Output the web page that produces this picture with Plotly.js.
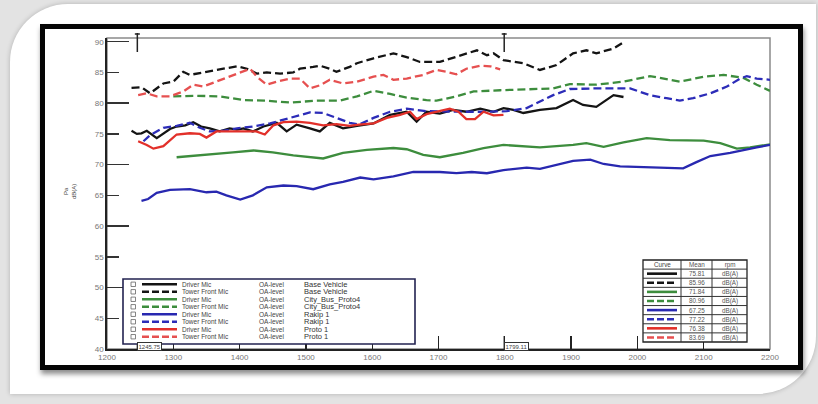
<!DOCTYPE html>
<html><head><meta charset="utf-8">
<script src="https://cdn.plot.ly/plotly-3.0.1.min.js"></script>
<style>
html,body{margin:0;padding:0;width:818px;height:404px;overflow:hidden;background:#e3e3e3;}
#card{position:absolute;left:10px;top:4px;width:806px;height:390px;background:#fff;border-radius:58px 0 58px 0;box-shadow:0 0 5px rgba(0,0,0,0.22);}
#frame{position:absolute;left:40px;top:24px;width:753px;height:336px;border:5px solid #050505;background:#fff;box-shadow:1px 4px 5px rgba(0,0,0,0.45);}
#chart{position:absolute;left:0;top:0;width:818px;height:404px;}
</style></head>
<body>
<div id="card"></div>
<div id="frame"></div>
<div id="chart"></div>
<script>
// ---- data ----
const bvDriverX = [1237,1245,1252,1260,1275,1285,1295,1305,1318,1330,1342,1355,1370,1385,1396,1406,1420,1436,1456,1471,1486,1506,1521,1536,1556,1577,1602,1627,1652,1667,1682,1702,1722,1742,1763,1783,1798,1813,1828,1853,1878,1903,1918,1938,1954,1964,1979];
const bvDriverY = [75.5,75.0,75.1,75.5,74.3,75.0,75.8,76.2,76.4,76.9,76.2,75.9,75.4,75.9,75.7,75.9,75.4,76.2,76.8,75.4,76.5,75.9,75.4,76.8,75.9,76.3,76.7,78.1,78.6,77.0,78.6,78.3,78.9,78.6,79.1,78.6,79.2,78.9,78.4,78.9,79.2,80.5,79.7,79.4,80.5,81.3,81.0];

const bvTowerX = [1237,1252,1265,1275,1285,1300,1315,1325,1340,1365,1380,1396,1411,1426,1441,1461,1481,1491,1511,1521,1536,1546,1566,1577,1602,1632,1652,1672,1702,1727,1758,1773,1783,1798,1828,1853,1878,1903,1923,1938,1954,1964,1979];
const bvTowerY = [82.5,82.6,81.6,82.4,83.2,83.5,85.1,84.6,84.9,85.4,85.6,86.0,85.6,84.8,85.0,84.8,85.0,85.6,85.9,86.1,85.6,85.1,85.9,86.5,87.3,88.1,87.5,86.7,86.7,87.5,88.6,87.8,88.1,87.0,86.5,85.4,86.2,88.1,88.6,88.1,88.6,88.9,89.9];

const cbDriverX = [1305,1330,1355,1390,1421,1450,1481,1506,1526,1556,1592,1632,1652,1677,1702,1737,1768,1798,1828,1853,1878,1903,1923,1949,1979,2014,2049,2100,2125,2150,2170,2200];
const cbDriverY = [71.2,71.4,71.7,72.0,72.3,72.0,71.5,71.2,71.0,71.9,72.4,72.7,72.5,71.6,71.2,71.9,72.7,73.2,73.0,72.8,73.0,73.2,73.5,72.9,73.6,74.3,74.0,73.9,73.5,72.6,72.8,73.3];

const cbTowerX = [1300,1335,1370,1406,1440,1476,1516,1551,1577,1602,1627,1652,1682,1697,1727,1753,1793,1833,1873,1898,1938,1979,2019,2064,2100,2130,2160,2180,2200];
const cbTowerY = [81.1,81.2,81.1,80.5,80.4,80.1,80.4,80.4,81.1,82.0,81.5,80.9,80.5,80.4,81.1,81.9,82.1,82.3,82.4,83.1,83.0,83.5,84.4,83.5,84.3,84.6,84.1,83.0,82.0];

const rkDriverX = [1252,1262,1275,1295,1325,1350,1365,1380,1401,1420,1441,1466,1486,1511,1536,1556,1582,1602,1632,1662,1702,1727,1750,1773,1798,1833,1853,1878,1903,1929,1949,1974,2024,2069,2089,2110,2140,2160,2180,2200];
const rkDriverY = [64.1,64.4,65.4,65.9,66.0,65.5,65.6,65.0,64.3,65.0,66.3,66.6,66.5,66.0,66.8,67.2,67.9,67.6,68.1,68.8,68.8,68.6,68.8,68.6,69.1,69.5,69.3,70.0,70.6,70.8,70.1,69.7,69.5,69.4,70.4,71.4,71.9,72.4,72.8,73.2];

const rkTowerX = [1255,1265,1285,1305,1325,1340,1355,1375,1396,1420,1446,1466,1486,1506,1526,1546,1566,1580,1602,1627,1652,1682,1712,1742,1773,1803,1833,1853,1873,1898,1938,1989,2019,2044,2064,2084,2110,2135,2155,2165,2180,2200];
const rkTowerY = [73.8,74.8,76.0,76.3,76.8,76.0,75.4,75.5,75.9,76.2,76.7,77.3,77.8,78.5,78.4,77.6,76.8,76.5,77.6,78.6,79.1,78.7,78.6,78.6,78.6,78.7,79.2,80.3,81.3,82.3,82.4,82.4,81.3,80.8,80.4,80.8,81.6,82.7,84.0,84.4,84.0,83.8];

const prDriverX = [1247,1260,1270,1285,1305,1325,1340,1350,1365,1385,1406,1425,1438,1451,1466,1486,1506,1526,1546,1566,1580,1602,1622,1642,1657,1667,1682,1702,1717,1730,1742,1755,1768,1783,1798];
const prDriverY = [73.8,73.2,72.6,73.0,74.9,75.1,75.0,74.4,75.4,75.4,75.5,75.4,74.9,76.4,76.9,77.0,76.8,76.4,76.6,76.3,76.5,76.7,77.6,78.1,78.6,77.4,78.2,78.7,79.1,78.6,77.4,77.4,78.6,78.0,78.1];

const prTowerX = [1247,1260,1275,1295,1315,1330,1345,1365,1386,1406,1416,1426,1441,1456,1476,1491,1506,1521,1536,1556,1577,1602,1617,1632,1652,1677,1697,1712,1727,1742,1763,1778,1793];
const prTowerY = [81.3,81.6,81.1,81.1,81.9,83.0,82.7,83.5,84.3,85.1,85.6,84.3,83.0,83.5,84.0,84.0,82.4,82.9,83.8,83.2,83.5,84.3,84.6,83.8,84.0,84.6,85.4,85.1,84.7,85.6,86.1,86.0,85.5];

const micNames = ["Driver Mic","Tower Front Mic","Driver Mic","Tower Front Mic","Driver Mic","Tower Front Mic","Driver Mic","Tower Front Mic"];
const levelNames = ["OA-level","OA-level","OA-level","OA-level","OA-level","OA-level","OA-level","OA-level"];
const vehicleNames = ["Base Vehicle","Base Vehicle","City_Bus_Proto4","City_Bus_Proto4","Rakip 1","Rakip 1","Proto 1","Proto 1"];
const meanVals = ["75.81","85.96","71.84","80.96","67.25","77.22","76.38","83.69"];
const unitVals = ["dB(A)","dB(A)","dB(A)","dB(A)","dB(A)","dB(A)","dB(A)","dB(A)"];
const tableHeaders = ["Curve","Mean","rpm"];
const cursorVals = [1245.75, 1799.11];
const cursorLabels = ["1245.75","1799.11"];
const yTitle = "Pa<br>dB(A)";

// ---- styles ----
const colors = ['#141414','#141414','#3d8d3d','#3d8d3d','#2828b0','#2c2cb8','#e2302a','#e65050'];
const dashes = ['solid','8px,4px','solid','8px,4px','solid','8px,4px','solid','8px,4px'];
const xs = [bvDriverX,bvTowerX,cbDriverX,cbTowerX,rkDriverX,rkTowerX,prDriverX,prTowerX];
const ys = [bvDriverY,bvTowerY,cbDriverY,cbTowerY,rkDriverY,rkTowerY,prDriverY,prTowerY];

const traces = xs.map((x,i)=>({
  type:'scatter', mode:'lines', x:x, y:ys[i],
  line:{color:colors[i], width:2.3, dash:dashes[i]},
  name: micNames[i]+' '+levelNames[i]+' '+vehicleNames[i],
  hoverinfo:'skip'
}));

// plot area in pixels: x 107..770, y 38..349
const L=107, R=770, T=38, B=349;
const px = v => (v-L)/(R-L);
const py = v => (B-v)/(B-T);

const shapes = [];
const ann = [];
const A = o => ann.push(Object.assign({xref:'paper',yref:'paper',showarrow:false,xanchor:'center',yanchor:'middle'},o));

// plot border (top/right gray)
shapes.push({type:'rect',xref:'paper',yref:'paper',x0:0,x1:1,y0:0,y1:1,line:{color:'#8a8a8a',width:1.5},layer:'below'});

// cursors
cursorVals.forEach((c,i)=>{
  shapes.push({type:'line',xref:'x',yref:'paper',x0:c,x1:c,y0:py(52),y1:py(33),line:{color:'#222',width:1.5}});
  shapes.push({type:'line',xref:'x',xsizemode:'pixel',xanchor:c,x0:-2.5,x1:2.5,yref:'paper',y0:py(34),y1:py(34),line:{color:'#222',width:1.5}});
  shapes.push({type:'line',xref:'x',yref:'paper',x0:c,x1:c,y0:0,y1:py(336),line:{color:'#222',width:1.3}});
  A({xref:'x',x:c,xanchor:'left',y:py(346),text:cursorLabels[i],
    font:{size:6,color:'#444'},bordercolor:'#333',borderwidth:1,borderpad:0.5,bgcolor:'#fff'});
});

// legend box
shapes.push({type:'rect',xref:'paper',yref:'paper',x0:px(123),x1:px(415),y0:py(344),y1:py(279),fillcolor:'#fff',line:{color:'#222250',width:1.6},layer:'above'});
const legTop = 284.3, legStep = 7.49;
for(let i=0;i<8;i++){
  const yc = legTop + i*legStep;
  shapes.push({type:'rect',xref:'paper',yref:'paper',x0:px(131),x1:px(135.5),y0:py(yc+2.2),y1:py(yc-2.2),fillcolor:'#fff',line:{color:'#666',width:0.8},layer:'above'});
  shapes.push({type:'line',xref:'paper',yref:'paper',x0:px(142),x1:px(177),y0:py(yc),y1:py(yc),line:{color:colors[i],width:2.6,dash:dashes[i]==='solid'?'solid':'7px,3px'},layer:'above'});
}
const legMid = legTop + 3.5*legStep;
const lfs = legStep/1.3;
const ls = (s,f) => '<span style="font-size:'+f+'px">'+s+'</span>';
A({x:px(180),xanchor:'left',y:py(legMid),align:'left',text:micNames.map(s=>ls(s,6.5)).join('<br>'),font:{size:lfs,color:'#444'}});
A({x:px(257),xanchor:'left',y:py(legMid),align:'left',text:levelNames.map(s=>ls(s,6.5)).join('<br>'),font:{size:lfs,color:'#444'}});
A({x:px(302),xanchor:'left',y:py(legMid),align:'left',text:vehicleNames.map(s=>ls(s,7.5)).join('<br>'),font:{size:lfs,color:'#333'}});

// table
const tL=643, tR=747, tT=260, tB=342, rh=(tB-tT)/9, c1=681, c2=712;
shapes.push({type:'rect',xref:'paper',yref:'paper',x0:px(tL),x1:px(tR),y0:py(tB),y1:py(tT),fillcolor:'#fff',line:{color:'#222',width:1.3},layer:'above'});
for(let k=1;k<9;k++){
  shapes.push({type:'line',xref:'paper',yref:'paper',x0:px(tL),x1:px(tR),y0:py(tT+k*rh),y1:py(tT+k*rh),line:{color:'#333',width:1},layer:'above'});
}
[c1,c2].forEach(c=>shapes.push({type:'line',xref:'paper',yref:'paper',x0:px(c),x1:px(c),y0:py(tB),y1:py(tT),line:{color:'#333',width:1},layer:'above'}));
const colCenters=[(tL+c1)/2,(c1+c2)/2,(c2+tR)/2];
for(let i=0;i<8;i++){
  const yc = tT+(i+1.5)*rh;
  shapes.push({type:'line',xref:'paper',yref:'paper',x0:px(647),x1:px(677),y0:py(yc),y1:py(yc),line:{color:colors[i],width:2.6,dash:dashes[i]==='solid'?'solid':'7px,3px'},layer:'above'});
}
const tfs = rh/1.3;
const sp = s => ls(s,6.3);
A({x:px(colCenters[0]),y:py(tT+rh/2),text:sp(tableHeaders[0]),font:{size:tfs,color:'#444'}});
A({x:px(colCenters[1]),y:py((tT+tB)/2),text:[tableHeaders[1]].concat(meanVals).map(sp).join('<br>'),font:{size:tfs,color:'#555'}});
A({x:px(colCenters[2]),y:py((tT+tB)/2),text:[tableHeaders[2]].concat(unitVals).map(sp).join('<br>'),font:{size:tfs,color:'#555'}});

// y title
A({x:px(70),y:py(192),text:yTitle,textangle:-90,font:{size:6,color:'#444'}});

const layout = {
  width:818, height:404,
  margin:{l:L, r:818-R, t:T, b:404-B, pad:0},
  paper_bgcolor:'rgba(0,0,0,0)', plot_bgcolor:'#fff',
  showlegend:false,
  font:{family:'Liberation Sans, Arial, sans-serif', size:8, color:'#666'},
  xaxis:{range:[1200,2200], tick0:1200, dtick:100, ticks:'inside', ticklen:13, tickwidth:1.4, tickcolor:'#222',
    showline:true, linecolor:'#222', linewidth:1.6, showgrid:false, zeroline:false, tickfont:{size:8,color:'#777'}},
  yaxis:{range:[40,90.6], tick0:40, dtick:5, ticks:'inside', ticklen:12, tickwidth:1.4, tickcolor:'#333',
    showline:true, linecolor:'#222', linewidth:1.8, showgrid:false, zeroline:false, tickfont:{size:8,color:'#777'}},
  yaxis2:{range:[40,90.6], overlaying:'y', side:'left', tick0:40, dtick:10, ticks:'inside', ticklen:22, tickwidth:1.4, tickcolor:'#333',
    showticklabels:false, showline:false, showgrid:false, zeroline:false},
  shapes:shapes, annotations:ann
};
traces.push({type:'scatter',mode:'lines',x:[],y:[],yaxis:'y2',hoverinfo:'skip',showlegend:false});
Plotly.newPlot('chart', traces, layout, {staticPlot:true, displayModeBar:false});
</script>
</body></html>
